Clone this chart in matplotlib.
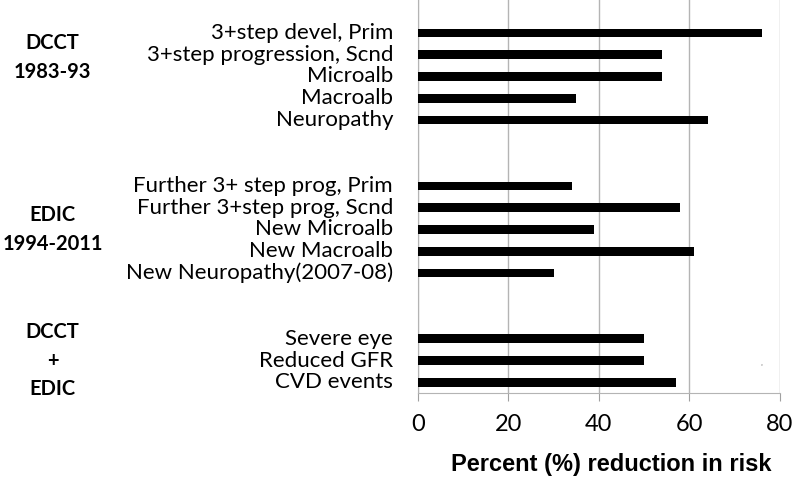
import matplotlib.pyplot as plt
import numpy as np

# -------------------------------
# Data
# -------------------------------
labels = [
    '3+step devel, Prim', '3+step progression, Scnd', 'Microalb', 'Macroalb', 'Neuropathy',
    '', '',
    'Further 3+ step prog, Prim', 'Further 3+step prog, Scnd', 'New Microalb',
    'New Macroalb', 'New Neuropathy(2007-08)',
    '', '',
    'Severe eye', 'Reduced GFR', 'CVD events',
]
values = [76, 54, 54, 35, 64,
          np.nan, np.nan,
          34, 58, 39, 61, 30,
          np.nan, np.nan,
          50, 50, 57]
groups = ['DCCT\n1983-93', 'EDIC\n1994-2011', 'DCCT\n+\nEDIC']
group_rows = [1.12, 9.0, 15.0]
xticks = [0, 20, 40, 60, 80]

# -------------------------------
# Plot
# -------------------------------
fig = plt.figure(figsize=(7.95, 4.78), dpi=100)
ax = fig.add_axes([0.5254, 0.177, 0.4557, 0.823])

y = np.arange(len(labels))
ax.barh(y, np.nan_to_num(values), height=0.39, color='black', zorder=3)

ax.set_xlim(0, 80)
ax.set_ylim(16.5, -1.5)
ax.set_xticks(xticks)
ax.set_xticklabels([str(t) for t in xticks], fontsize=17, family='Lato')
ax.tick_params(axis='x', length=6, color='#a0a0a0', pad=9)
ax.set_yticks([])
ax.grid(axis='x', color='#b4b4b4', linewidth=1, zorder=0)

for side in ['top', 'right']:
    ax.spines[side].set_visible(False)
ax.spines['left'].set_color('#b4b4b4')
ax.spines['bottom'].set_color('#b4b4b4')

# category labels
for yi, lab in zip(y, labels):
    if lab:
        ax.text(-0.068, yi, lab, transform=ax.get_yaxis_transform(),
                ha='right', va='center', fontsize=16, family='Lato')

# group labels
for g, r in zip(groups, group_rows):
    ax.text(-1.008, r, g, transform=ax.get_yaxis_transform(),
            ha='center', va='center', fontsize=14.5, fontweight='bold',
            family='Lato', linespacing=1.55)

ax.text(76, 15.2, 'ε', fontsize=3, color='#888888', ha='center', va='center')

fig.text(611 / 795, 1 - 465 / 478, 'Percent (%) reduction in risk', fontsize=17,
         fontweight='bold', family='Liberation Sans', ha='center', va='center')

fig.savefig('out.png', dpi=100)
